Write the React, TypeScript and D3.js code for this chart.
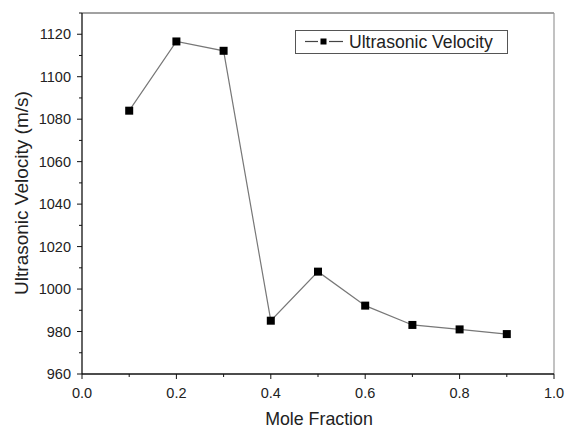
import React from "react";
import * as d3 from "d3";

const moleFraction = [0.1, 0.2, 0.3, 0.4, 0.5, 0.6, 0.7, 0.8, 0.9];
const velocity = [1084, 1116.6, 1112.2, 985.1, 1008.2, 992.2, 983.1, 981, 978.8];
const xTicks = [0, 0.2, 0.4, 0.6, 0.8, 1.0];
const yTicks = [960, 980, 1000, 1020, 1040, 1060, 1080, 1100, 1120];
const seriesName = "Ultrasonic Velocity";

export default function App() {
  const W = 566, H = 428;
  const left = 82, right = 554, top = 13, bottom = 374;
  const x = d3.scaleLinear().domain([0, 1]).range([left, right]);
  const y = d3.scaleLinear().domain([960, 1130]).range([bottom, top]);
  const line = d3.line<number>().x((_, i) => x(moleFraction[i])).y((d) => y(d));
  const xMinor = d3.range(0.1, 1, 0.2);
  const yMinor = d3.range(970, 1131, 20);
  const font = "Liberation Sans, Arial, sans-serif";
  const tc = "#222";
  return (
    <svg width={W} height={H} style={{ position: "absolute", left: 0, top: 0 }} fontFamily={font}>
      <rect x={0} y={0} width={W} height={H} fill="#fff" />
      {/* frame */}
      <line x1={left} x2={right} y1={top} y2={top} stroke="#444" strokeWidth={1} />
      <line x1={right} x2={right} y1={top} y2={bottom} stroke="#999" strokeWidth={1.2} />
      <line x1={left} x2={left} y1={top} y2={bottom} stroke="#111" strokeWidth={1.3} />
      <line x1={left} x2={right} y1={bottom} y2={bottom} stroke="#111" strokeWidth={1.3} />
      {/* x ticks */}
      {xTicks.map((t) => (
        <g key={"x" + t}>
          <line x1={x(t)} x2={x(t)} y1={bottom} y2={bottom + 5} stroke="#111" />
          <text x={x(t)} y={397.5} textAnchor="middle" fontSize={14.5} fill={tc}>
            {t.toFixed(1)}
          </text>
        </g>
      ))}
      {xMinor.map((t) => (
        <line key={"xm" + t} x1={x(t)} x2={x(t)} y1={bottom} y2={bottom + 3} stroke="#111" />
      ))}
      {/* y ticks */}
      {yTicks.map((t) => (
        <g key={"y" + t}>
          <line x1={left - 5} x2={left} y1={y(t)} y2={y(t)} stroke="#111" />
          <text x={71} y={y(t) + 5} textAnchor="end" fontSize={14.5} fill={tc}>
            {t}
          </text>
        </g>
      ))}
      {yMinor.map((t) => (
        <line key={"ym" + t} x1={left - 3} x2={left} y1={y(t)} y2={y(t)} stroke="#111" />
      ))}
      {/* axis titles */}
      <text x={(left + right) / 2 + 1} y={425} textAnchor="middle" fontSize={17.8} fill={tc}>
        Mole Fraction
      </text>
      <text
        transform={`translate(28, 193) rotate(-90)`}
        textAnchor="middle"
        fontSize={19}
        fill={tc}
      >
        Ultrasonic Velocity (m/s)
      </text>
      {/* series */}
      <path d={line(velocity) ?? ""} fill="none" stroke="#777" strokeWidth={1.2} />
      {velocity.map((v, i) => (
        <rect key={"p" + i} x={x(moleFraction[i]) - 4} y={y(v) - 4} width={8} height={8} fill="#000" />
      ))}
      {/* legend */}
      <rect x={295.5} y={30.5} width={212} height={23} fill="#fff" stroke="#555" />
      <line x1={305} x2={318} y1={41.5} y2={41.5} stroke="#444" strokeWidth={1.2} />
      <line x1={329} x2={343} y1={41.5} y2={41.5} stroke="#444" strokeWidth={1.2} />
      <rect x={320.5} y={38.5} width={6} height={6} fill="#000" />
      <text x={349} y={48} fontSize={17.6} fill={tc}>
        {seriesName}
      </text>
    </svg>
  );
}
